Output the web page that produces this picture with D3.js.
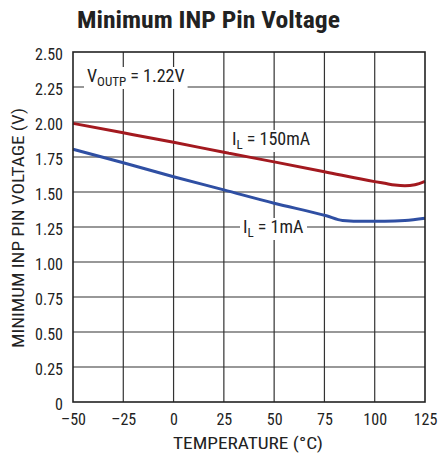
<!DOCTYPE html>
<html><head><meta charset="utf-8">
<script src="https://cdn.jsdelivr.net/npm/d3@7"></script>
<style>body{margin:0;background:#fff}svg{display:block}</style>
</head><body>
<script>
const xTicks = [-50,-25,0,25,50,75,100,125];
const yTicks = [0,0.25,0.5,0.75,1.0,1.25,1.5,1.75,2.0,2.25,2.5];
const tempRed = [-50,-25,0,25,50,75,100,105,110,115,120,125];
const vRed    = [1.99,1.923,1.855,1.784,1.715,1.645,1.574,1.562,1.55,1.545,1.552,1.576];
const tempBlue = [-50,-25,0,25,50,76,84,95,105,115,125];
const vBlue    = [1.805,1.709,1.609,1.515,1.42,1.33,1.297,1.291,1.291,1.296,1.313];

const W=438,H=456;
const m={l:73,r:425,t:52,b:402};
const svg=d3.select("body").append("svg").attr("width",W).attr("height",H);
const font="'Liberation Sans Narrow','Roboto Condensed','Liberation Sans',Arial,sans-serif";
const x=d3.scaleLinear().domain([-50,125]).range([m.l,m.r]);
const y=d3.scaleLinear().domain([0,2.5]).range([m.b,m.t]);

// grid
svg.append("g").selectAll("line").data(xTicks.slice(1,-1)).join("line")
 .attr("x1",d=>x(d)).attr("x2",d=>x(d)).attr("y1",m.t).attr("y2",m.b)
 .attr("stroke","#333").attr("stroke-width",1.2);
svg.append("g").selectAll("line").data(yTicks.slice(1,-1)).join("line")
 .attr("y1",d=>y(d)).attr("y2",d=>y(d)).attr("x1",m.l).attr("x2",m.r)
 .attr("stroke","#333").attr("stroke-width",1.2);

const line=d3.line().x(d=>x(d[0])).y(d=>y(d[1])).curve(d3.curveMonotoneX);
svg.append("path").datum(d3.zip(tempRed,vRed)).attr("d",line)
 .attr("fill","none").attr("stroke","#a3191f").attr("stroke-width",3);
svg.append("path").datum(d3.zip(tempBlue,vBlue)).attr("d",line)
 .attr("fill","none").attr("stroke","#2f4fa3").attr("stroke-width",3);

// frame
svg.append("rect").attr("x",m.l).attr("y",m.t).attr("width",m.r-m.l).attr("height",m.b-m.t)
 .attr("fill","none").attr("stroke","#222").attr("stroke-width",1.6);

// axes tick labels
const xa=svg.append("g").attr("transform",`translate(0,${m.b})`)
 .call(d3.axisBottom(x).tickValues(xTicks).tickSize(0).tickPadding(12)
   .tickFormat(d=>d<0?"\u2013"+Math.abs(d):d));
xa.select(".domain").remove();
xa.selectAll("text").attr("font-family",font).attr("font-size",16).attr("fill","#222");
const ya=svg.append("g").attr("transform",`translate(${m.l},0)`)
 .call(d3.axisLeft(y).tickValues(yTicks).tickSize(0).tickPadding(10)
   .tickFormat(d=>d===0?"0":d3.format(".2f")(d)));
ya.select(".domain").remove();
ya.selectAll("text").attr("font-family",font).attr("font-size",16).attr("fill","#222").attr("dy","0.45em");

// titles
svg.append("text").attr("x",208.5).attr("y",28).attr("text-anchor","middle")
 .attr("font-family",font).attr("font-weight","bold").attr("font-size",24).attr("fill","#222")
 .attr("textLength",263).attr("lengthAdjust","spacingAndGlyphs")
 .text("Minimum INP Pin Voltage");
svg.append("text").attr("x",248).attr("y",449).attr("text-anchor","middle")
 .attr("font-family",font).attr("font-size",17).attr("fill","#222")
 .attr("textLength",150).attr("lengthAdjust","spacingAndGlyphs").text("TEMPERATURE (°C)");
svg.append("text").attr("transform",`translate(24,228) rotate(-90)`).attr("text-anchor","middle")
 .attr("font-family",font).attr("font-size",17).attr("fill","#222")
 .attr("textLength",240).attr("lengthAdjust","spacingAndGlyphs").text("MINIMUM INP PIN VOLTAGE (V)");

// annotations with white background
function label(xp,yp,main,sub,rest){
  const g=svg.append("g");
  const bg=g.append("rect").attr("fill","#fff");
  const t=g.append("text").attr("x",xp).attr("y",yp).attr("font-family",font).attr("font-size",18).attr("fill","#222");
  t.append("tspan").text(main);
  t.append("tspan").attr("font-size",13).attr("dy",4).text(sub);
  t.append("tspan").attr("dy",-4).text(rest);
  const b=t.node().getBBox();
  bg.attr("x",b.x-3).attr("y",b.y+2).attr("width",b.width+6).attr("height",b.height-2);
}
label(87,82,"V","OUTP"," = 1.22V");
label(232,145,"I","L"," = 150mA");
label(243,233,"I","L"," = 1mA");
</script>
</body></html>
